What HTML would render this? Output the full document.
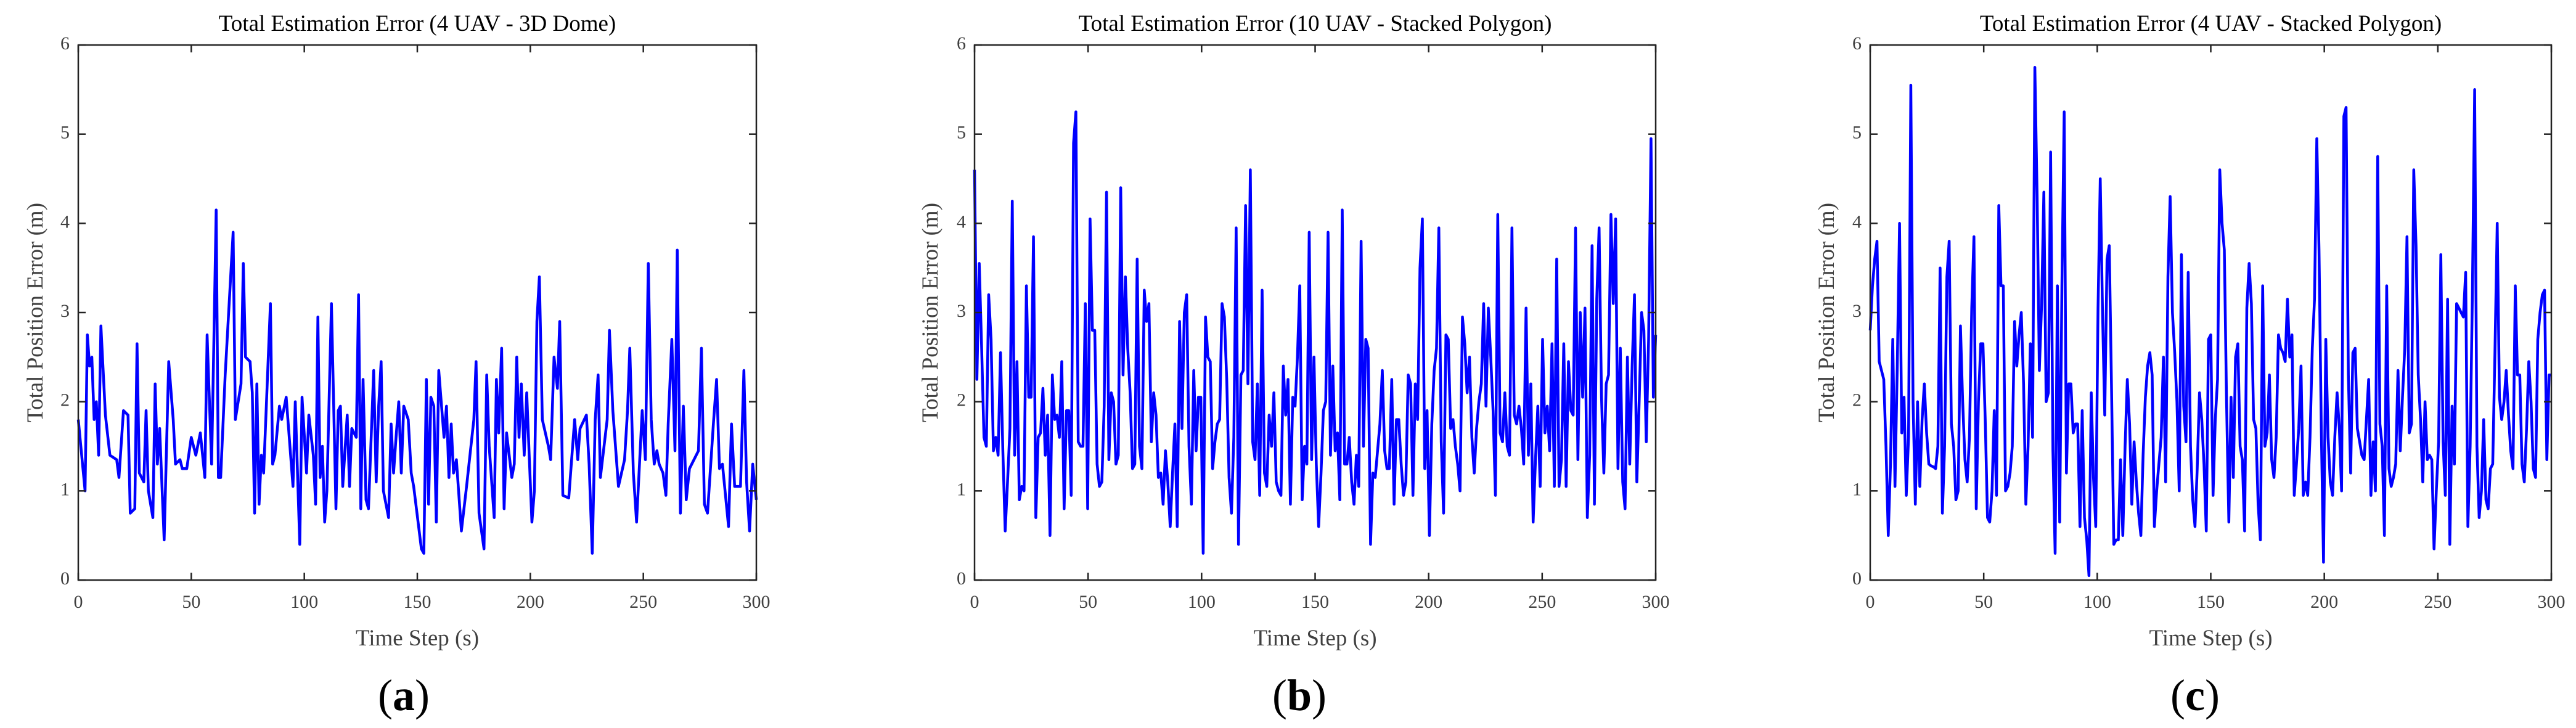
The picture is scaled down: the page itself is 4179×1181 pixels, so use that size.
<!DOCTYPE html>
<html><head><meta charset="utf-8">
<style>
html,body{margin:0;padding:0;background:#fff;}
svg{display:block;}
text{font-family:"Liberation Serif",serif;}
</style></head>
<body>
<svg id="fig" width="4179" height="1181" viewBox="0 0 4179 1181" xmlns="http://www.w3.org/2000/svg"></svg>
<script>
// ---- data ----
const xTicks = [0,50,100,150,200,250,300];
const yTicks = [0,1,2,3,4,5,6];
const titles = ["Total Estimation Error (4 UAV - 3D Dome)","Total Estimation Error (10 UAV - Stacked Polygon)","Total Estimation Error (4 UAV - Stacked Polygon)"];
const panelLabels = ["a","b","c"];

const timeA = [0,3,4,5,6,7,8,9,10,12,14,17,18,20,22,23,25,26,27,29,30,31,33,34,35,36,38,40,42,43,45,46,48,50,52,54,56,57,59,60,61,62,63,65,68.5,69.5,72,73,74,76,77,78,79,80,81,82,85,86,87,89,90,92,95,96,98,99,101,102,104,105,106,107,108,109,110,112,114,115,116,117,119,120,121,123,124,125,126,127.3,128.4,130.7,131.8,132.9,134,135,137.3,138.4,139.5,140.6,141.8,142.9,144,146,147.3,148.4,151.8,152.9,154,155,156,157.3,158.4,159.5,161.8,162.9,164,165,166,167.3,169.5,171.8,175,176,177.3,179.5,180.7,181.8,184,185,186,187.3,188.4,189.5,191.8,192.9,194,195,196,197.3,198.4,199.5,200.7,201.8,202.9,204,205.3,208,209,210.5,212,213,214.4,217,219.6,221,222,224.8,226,227.4,228.7,230,231,234,235,236.5,239,241.7,243,244,245.6,247,249.5,250.9,252.2,253.5,254.8,256,257,258.7,260,261,262.6,264,265,266.4,267.7,269,270.4,274.4,275.7,277,278.4,281,282.4,283.7,285,287.7,289,290.4,293,294.5,295.7,297,298.4,300];
const valuesA = [1.8,1.0,2.75,2.4,2.5,1.8,2.0,1.4,2.85,1.85,1.4,1.35,1.15,1.9,1.85,0.75,0.8,2.65,1.2,1.1,1.9,1.0,0.7,2.2,1.3,1.7,0.45,2.45,1.8,1.3,1.35,1.25,1.25,1.6,1.4,1.65,1.15,2.75,1.3,2.7,4.15,1.15,1.15,2.3,3.9,1.8,2.2,3.55,2.5,2.45,2.1,0.75,2.2,0.85,1.4,1.2,3.1,1.3,1.4,1.95,1.8,2.05,1.05,2.0,0.4,2.05,1.2,1.85,1.4,0.85,2.95,1.15,1.5,0.65,1.0,3.1,0.8,1.9,1.95,1.05,1.85,1.05,1.7,1.6,3.2,0.8,2.25,0.9,0.8,2.35,1.1,1.95,2.45,1.0,0.7,1.75,1.2,1.6,2.0,1.2,1.95,1.8,1.2,1.05,0.35,0.3,2.25,0.85,2.05,1.95,0.65,2.35,1.6,1.95,1.15,1.75,1.2,1.35,0.55,1.05,1.8,2.45,0.75,0.35,2.3,1.5,0.7,2.25,1.65,2.6,0.8,1.65,1.15,1.3,2.5,1.6,2.2,1.4,2.1,1.4,0.65,1.0,2.9,3.4,1.8,1.5,1.35,2.5,2.15,2.9,0.95,0.92,1.8,1.35,1.7,1.85,1.3,0.3,1.8,2.3,1.15,1.8,2.8,1.9,1.05,1.35,1.9,2.6,1.2,0.65,1.9,1.35,3.55,1.8,1.3,1.45,1.3,1.2,0.95,1.75,2.7,1.45,3.7,0.75,1.95,0.9,1.25,1.45,2.6,0.85,0.75,1.75,2.25,1.25,1.3,0.6,1.75,1.05,1.05,2.35,1.1,0.55,1.3,0.9];

const valuesB = [4.6,2.25,3.55,2.6,1.6,1.5,3.2,2.7,1.45,1.6,1.4,2.55,1.45,0.55,1.1,1.7,4.25,1.4,2.45,0.9,1.05,1.0,3.3,2.05,2.05,3.85,0.7,1.6,1.65,2.15,1.4,1.85,0.5,2.3,1.8,1.85,1.6,2.45,0.8,1.9,1.9,0.95,4.9,5.25,1.55,1.5,1.5,3.1,0.8,4.05,2.8,2.8,1.3,1.05,1.1,1.95,4.35,1.35,2.1,2.0,1.3,1.4,4.4,2.3,3.4,2.6,2.1,1.25,1.3,3.6,1.5,1.25,3.25,2.9,3.1,1.55,2.1,1.85,1.15,1.2,0.85,1.45,1.1,0.6,1.2,1.75,0.6,2.9,1.7,3.0,3.2,1.5,0.85,2.35,1.45,2.05,2.05,0.3,2.95,2.5,2.45,1.25,1.55,1.75,1.8,3.1,2.95,2.25,1.15,0.75,1.6,3.95,0.4,2.3,2.35,4.2,2.2,4.6,1.55,1.35,2.2,0.95,3.25,1.2,1.05,1.85,1.5,2.1,1.1,1.0,0.95,2.4,1.85,2.25,0.85,2.05,1.95,2.5,3.3,0.9,1.5,1.3,3.9,1.35,2.5,1.3,0.6,1.2,1.9,2.0,3.9,1.4,2.4,1.45,1.65,0.9,4.15,1.3,1.3,1.6,1.1,0.85,1.4,1.05,3.8,1.5,2.7,2.6,0.4,1.2,1.15,1.45,1.75,2.35,1.45,1.25,1.25,2.25,0.85,1.8,1.8,1.3,0.95,1.1,2.3,2.2,0.95,2.2,1.8,3.5,4.05,1.25,1.9,0.5,1.75,2.35,2.6,3.95,1.55,0.75,2.75,2.7,1.7,1.8,1.5,1.3,1.0,2.95,2.65,2.1,2.5,1.6,1.2,1.7,2.0,2.2,3.1,1.95,3.05,2.5,1.9,0.95,4.1,1.65,1.55,2.1,1.5,1.4,3.95,1.85,1.75,1.95,1.7,1.3,3.05,1.4,2.2,0.65,1.35,1.95,1.05,2.7,1.65,1.95,1.45,2.65,1.05,3.6,1.05,1.35,2.65,1.05,2.45,1.9,1.85,3.95,1.35,3.0,2.05,3.05,0.7,1.4,3.75,0.85,3.15,3.95,2.05,1.2,2.2,2.3,4.1,3.1,4.05,1.25,2.6,1.1,0.8,2.5,1.3,2.4,3.2,1.1,2.0,3.0,2.8,1.55,2.7,4.95,2.05,2.75];

const valuesC = [2.8,3.3,3.6,3.8,2.45,2.35,2.25,1.5,0.5,1.3,2.7,1.05,2.4,4.0,1.65,2.05,0.95,1.6,5.55,2.0,0.85,2.0,1.05,1.8,2.2,1.65,1.3,1.28,1.27,1.25,1.5,3.5,0.75,1.5,3.4,3.8,1.75,1.5,0.9,1.0,2.85,2.0,1.35,1.1,1.6,3.05,3.85,0.8,2.0,2.65,2.65,1.8,0.7,0.65,1.0,1.9,0.95,4.2,3.3,3.3,1.0,1.05,1.2,1.5,2.9,2.4,2.75,3.0,2.2,0.85,1.5,2.65,1.6,5.75,4.3,2.35,3.1,4.35,2.0,2.1,4.8,1.45,0.3,3.3,0.65,3.3,5.25,1.2,2.2,2.2,1.65,1.75,1.75,0.6,1.9,0.7,0.45,0.05,2.1,1.15,0.6,3.05,4.5,3.0,1.85,3.6,3.75,2.15,0.4,0.45,0.45,1.35,0.5,1.5,2.25,1.75,0.85,1.55,1.1,0.75,0.5,1.4,2.05,2.4,2.55,2.3,0.6,1.0,1.3,1.6,2.5,1.1,3.4,4.3,3.0,2.55,2.0,1.0,3.65,1.95,1.55,3.45,1.5,0.9,0.6,1.25,2.1,1.8,1.3,0.55,2.7,2.75,0.95,1.8,2.25,4.6,4.0,3.7,2.0,0.65,2.05,1.15,2.5,2.65,1.5,1.35,0.55,3.05,3.55,3.1,1.8,1.7,0.85,0.45,3.3,1.5,1.65,2.3,1.35,1.15,1.6,2.75,2.6,2.55,2.45,3.15,2.5,2.75,0.95,1.3,1.7,2.4,0.95,1.1,0.95,1.6,2.6,3.15,4.95,3.7,1.7,0.2,2.7,1.6,1.1,0.95,1.6,2.1,1.7,1.0,5.2,5.3,2.3,1.2,2.55,2.6,1.7,1.55,1.4,1.35,1.8,2.25,0.95,1.55,1.0,4.75,1.75,1.5,0.5,3.3,1.25,1.05,1.15,1.3,2.35,1.45,2.05,2.6,3.85,1.65,1.75,4.6,3.75,2.3,1.8,1.1,2.0,1.35,1.4,1.35,0.35,1.0,1.55,3.65,1.55,0.95,3.15,0.4,1.95,1.3,3.1,3.05,3.0,2.95,3.45,0.6,1.5,3.2,5.5,1.5,0.7,1.0,1.8,0.9,0.8,1.25,1.3,2.55,4.0,2.05,1.8,2.0,2.35,1.85,1.45,1.25,3.3,2.3,2.3,1.3,1.1,1.7,2.45,2.0,1.25,1.15,2.7,3.0,3.2,3.25,1.35,2.3,2.3];

// ---- layout ----
const NS = "http://www.w3.org/2000/svg";
const svgRoot = document.getElementById('fig');
const panels = [
  {left:127, right:1227, ylabX:56, labX:655},
  {left:1581, right:2686, ylabX:1508, labX:2108},
  {left:3034, right:4139, ylabX:2962, labX:3561}
];
const plotTop = 73, plotBottom = 941;

function mk(tag, attrs, parent){
  const e = document.createElementNS(NS, tag);
  for (const k in attrs) e.setAttribute(k, attrs[k]);
  (parent||svgRoot).appendChild(e);
  return e;
}

function evenTimes(n){ const t=[]; for(let i=0;i<n;i++) t.push(i*300/(n-1)); return t; }
const seriesT = [timeA, evenTimes(valuesB.length), evenTimes(valuesC.length)];
const seriesV = [valuesA, valuesB, valuesC];

panels.forEach((p, idx) => {
  const g = mk('g', {});
  
  
  const xs = v => p.left + (v/300)*(p.right-p.left);
  const ys = v => plotBottom - (v/6)*(plotBottom-plotTop);
  const cx = (p.left+p.right)/2;

  const title = mk('text', {x:cx, y:50, 'text-anchor':'middle', 'font-size':37, fill:'#000'}, g);
  title.textContent = titles[idx];
  
  

  const T = seriesT[idx], V = seriesV[idx];
  let d = '';
  for (let i=0;i<V.length;i++) d += (i?'L':'M') + xs(T[i]).toFixed(1) + ' ' + ys(V[i]).toFixed(1);
  const line = mk('path', {d:d, fill:'none', stroke:'#0000ff', 'stroke-width':4.5, 'stroke-linejoin':'round'}, g);
  
  

  xTicks.forEach(t => {
    const x = xs(t);
    mk('line', {x1:x, x2:x, y1:plotBottom, y2:plotBottom-12, stroke:'#222', 'stroke-width':2.5}, g);
    mk('line', {x1:x, x2:x, y1:plotTop, y2:plotTop+12, stroke:'#222', 'stroke-width':2.5}, g);
    const tl = mk('text', {x:x, y:986, 'text-anchor':'middle', 'font-size':30, fill:'#404040'}, g);
    tl.textContent = t;
    
    
  });
  yTicks.forEach(t => {
    const y = ys(t);
    mk('line', {x1:p.left, x2:p.left+12, y1:y, y2:y, stroke:'#222', 'stroke-width':2.5}, g);
    mk('line', {x1:p.right, x2:p.right-12, y1:y, y2:y, stroke:'#222', 'stroke-width':2.5}, g);
    const tl = mk('text', {x:p.left-14, y:y+7, 'text-anchor':'end', 'font-size':30, fill:'#404040'}, g);
    tl.textContent = t;
    
    
  });

  const box = mk('rect', {x:p.left, y:plotTop, width:p.right-p.left, height:plotBottom-plotTop, fill:'none', stroke:'#222', 'stroke-width':2.5}, g);
  
  

  const xl = mk('text', {x:cx, y:1047, 'text-anchor':'middle', 'font-size':37, fill:'#404040'}, g);
  xl.textContent = 'Time Step (s)';
  
  

  const yl = mk('text', {x:0, y:0, 'text-anchor':'middle', 'font-size':37, fill:'#404040', transform:`translate(${p.ylabX+13},${(plotTop+plotBottom)/2}) rotate(-90)`}, g);
  yl.textContent = 'Total Position Error (m)';
  
  

  const pl = mk('text', {x:p.labX, y:1152, 'text-anchor':'middle', 'font-size':72, fill:'#000'}, g);
  pl.appendChild(document.createTextNode('('));
  const ts = mk('tspan', {'font-weight':'bold'}, pl);
  ts.textContent = panelLabels[idx];
  pl.appendChild(document.createTextNode(')'));
  
  
});
</script>
</body></html>
